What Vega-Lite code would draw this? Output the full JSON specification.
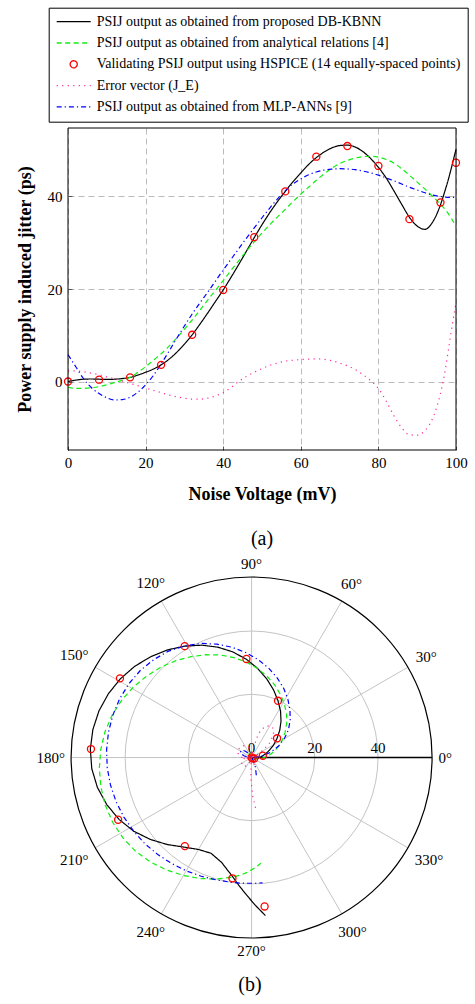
{
 "$schema": "https://vega.github.io/schema/vega-lite/v6.json",
 "background": "#ffffff",
 "padding": {"left": 16, "top": 7, "right": 0, "bottom": 5},
 "config": {
  "font": "Liberation Serif",
  "view": {"stroke": null},
  "axis": {"labelFont": "Liberation Serif", "titleFont": "Liberation Serif", "labelColor": "#000000", "titleColor": "#000000", "labelFontSize": 15, "titleFontSize": 18, "titleFontWeight": "bold"},
  "title": {"font": "Liberation Serif", "fontSize": 20, "fontWeight": "normal", "color": "#000000"},
  "legend": {"title": null, "orient": "none", "legendX": -19.3, "legendY": -120.3, "direction": "vertical", "padding": 7, "strokeColor": "#000000", "fillColor": "#ffffff", "symbolStrokeWidth": 1.3, "symbolOffset": 0, "labelOffset": 5, "rowPadding": 7.3, "clipHeight": 14, "labelFont": "Liberation Serif", "labelFontSize": 14, "labelColor": "#000000", "labelLimit": 1000, "labelBaseline": "middle"}
 },
 "datasets": {
  "curves": [
   {"v":0,"kbnn":0,"analytic":-1.2,"mlp":5.8,"error":2.3},
   {"v":2,"kbnn":0.3,"analytic":-1.5,"mlp":3.2,"error":2.3},
   {"v":4,"kbnn":0.5,"analytic":-1.5,"mlp":0.6,"error":2.1},
   {"v":6,"kbnn":0.55,"analytic":-1.35,"mlp":-1.3,"error":1.8},
   {"v":8,"kbnn":0.5,"analytic":-1.1,"mlp":-2.6,"error":1.5},
   {"v":10,"kbnn":0.45,"analytic":-0.7,"mlp":-3.5,"error":1.0},
   {"v":12,"kbnn":0.5,"analytic":-0.25,"mlp":-4.0,"error":0.6},
   {"v":14,"kbnn":0.65,"analytic":0.3,"mlp":-3.9,"error":0.1},
   {"v":16,"kbnn":0.9,"analytic":0.9,"mlp":-3.4,"error":-0.4},
   {"v":18,"kbnn":1.4,"analytic":2.0,"mlp":-2.3,"error":-0.9},
   {"v":20,"kbnn":2.0,"analytic":3.2,"mlp":-0.7,"error":-1.4},
   {"v":22,"kbnn":2.7,"analytic":4.6,"mlp":1.3,"error":-1.9},
   {"v":24,"kbnn":3.6,"analytic":6.0,"mlp":3.8,"error":-2.4},
   {"v":26,"kbnn":4.8,"analytic":7.6,"mlp":6.5,"error":-2.9},
   {"v":28,"kbnn":6.3,"analytic":9.4,"mlp":9.3,"error":-3.3},
   {"v":30,"kbnn":8.1,"analytic":11.3,"mlp":12.0,"error":-3.6},
   {"v":32,"kbnn":10.1,"analytic":13.3,"mlp":14.6,"error":-3.8},
   {"v":34,"kbnn":12.4,"analytic":15.4,"mlp":17.0,"error":-3.8},
   {"v":36,"kbnn":14.8,"analytic":17.6,"mlp":19.3,"error":-3.6},
   {"v":38,"kbnn":17.3,"analytic":19.7,"mlp":21.7,"error":-3.1},
   {"v":40,"kbnn":19.8,"analytic":21.8,"mlp":24.1,"error":-2.4},
   {"v":42,"kbnn":22.5,"analytic":24.0,"mlp":26.4,"error":-1.3},
   {"v":44,"kbnn":25.3,"analytic":26.1,"mlp":28.7,"error":0.0},
   {"v":46,"kbnn":28.2,"analytic":28.2,"mlp":31.0,"error":1.1},
   {"v":48,"kbnn":31.1,"analytic":30.2,"mlp":33.2,"error":2.0},
   {"v":50,"kbnn":33.9,"analytic":32.1,"mlp":35.4,"error":2.8},
   {"v":52,"kbnn":36.5,"analytic":33.9,"mlp":37.5,"error":3.5},
   {"v":54,"kbnn":38.9,"analytic":35.6,"mlp":39.5,"error":4.0},
   {"v":56,"kbnn":41.1,"analytic":37.2,"mlp":41.2,"error":4.4},
   {"v":58,"kbnn":43.2,"analytic":38.9,"mlp":42.7,"error":4.6},
   {"v":60,"kbnn":45.1,"analytic":40.5,"mlp":43.8,"error":4.75},
   {"v":62,"kbnn":46.9,"analytic":42.0,"mlp":44.7,"error":4.85},
   {"v":64,"kbnn":48.4,"analytic":43.5,"mlp":45.3,"error":4.9},
   {"v":66,"kbnn":49.6,"analytic":44.9,"mlp":45.7,"error":4.8},
   {"v":68,"kbnn":50.5,"analytic":46.1,"mlp":45.9,"error":4.5},
   {"v":70,"kbnn":51.0,"analytic":47.1,"mlp":46.0,"error":4.0},
   {"v":72,"kbnn":51.1,"analytic":47.8,"mlp":45.95,"error":3.4},
   {"v":74,"kbnn":50.7,"analytic":48.3,"mlp":45.8,"error":2.6},
   {"v":76,"kbnn":49.7,"analytic":48.6,"mlp":45.5,"error":1.5},
   {"v":78,"kbnn":48.2,"analytic":48.7,"mlp":45.1,"error":0.2},
   {"v":80,"kbnn":46.3,"analytic":48.5,"mlp":44.6,"error":-1.5},
   {"v":82,"kbnn":44.0,"analytic":48.0,"mlp":44.0,"error":-4.2},
   {"v":84,"kbnn":41.2,"analytic":47.2,"mlp":43.4,"error":-7.4},
   {"v":86,"kbnn":38.3,"analytic":46.0,"mlp":42.7,"error":-10.0},
   {"v":88,"kbnn":35.5,"analytic":44.6,"mlp":42.0,"error":-11.5},
   {"v":90,"kbnn":33.6,"analytic":43.1,"mlp":41.4,"error":-11.6},
   {"v":92,"kbnn":32.9,"analytic":41.6,"mlp":40.8,"error":-10.6},
   {"v":94,"kbnn":34.5,"analytic":40.0,"mlp":40.3,"error":-7.9},
   {"v":96,"kbnn":38.2,"analytic":38.3,"mlp":40.0,"error":-2.6},
   {"v":97,"kbnn":40.8,"analytic":37.4,"mlp":39.9,"error":1.4},
   {"v":98,"kbnn":43.6,"analytic":36.3,"mlp":39.8,"error":6.6},
   {"v":99,"kbnn":46.8,"analytic":35.0,"mlp":39.8,"error":12.0},
   {"v":100,"kbnn":50.2,"analytic":33.6,"mlp":39.8,"error":17.0}
  ],
  "hspice": [
   {"s":"hspice","v":0,"j":0},
   {"s":"hspice","v":8,"j":0.4},
   {"s":"hspice","v":16,"j":0.9},
   {"s":"hspice","v":24,"j":3.6},
   {"s":"hspice","v":32,"j":10.1},
   {"s":"hspice","v":40,"j":19.8},
   {"s":"hspice","v":48,"j":31.2},
   {"s":"hspice","v":56,"j":41.1},
   {"s":"hspice","v":64,"j":48.6},
   {"s":"hspice","v":72,"j":50.9},
   {"s":"hspice","v":80,"j":46.6},
   {"s":"hspice","v":88,"j":35.1},
   {"s":"hspice","v":96,"j":38.7},
   {"s":"hspice","v":100,"j":47.3}
  ]
 },
 "spacing": 8,
 "resolve": {"scale": {"x": "independent", "y": "independent", "color": "independent", "strokeDash": "independent", "shape": "independent", "size": "independent"}},
 "vconcat": [
  {
   "width": 388,
   "height": 322,
   "title": {"text": "(a)", "orient": "bottom", "offset": 26},
   "layer": [
    {
     "data": {"name": "curves"},
     "transform": [{"fold": ["kbnn", "analytic", "error", "mlp"], "as": ["s", "j"]}],
     "mark": {"type": "line", "strokeWidth": 1.2, "interpolate": "monotone"},
     "encoding": {
      "x": {"field": "v", "type": "quantitative", "scale": {"domain": [0, 100], "nice": false, "zero": false},
            "axis": {"values": [0, 20, 40, 60, 80, 100], "title": "Noise Voltage (mV)", "grid": true, "gridDash": [6, 4], "gridColor": "#bbbbbb", "gridWidth": 1, "domain": false, "ticks": true, "tickSize": -4, "tickColor": "#555555", "tickWidth": 1, "labelPadding": 9, "labelFlush": false, "labelOverlap": false, "titlePadding": 15}},
      "y": {"field": "j", "type": "quantitative", "scale": {"domain": [-14.8, 54.8], "nice": false, "zero": false},
            "axis": {"values": [0, 20, 40], "title": "Power supply induced jitter (ps)", "grid": true, "gridDash": [6, 4], "gridColor": "#bbbbbb", "gridWidth": 1, "domain": false, "ticks": true, "tickSize": -4, "tickColor": "#555555", "tickWidth": 1, "labelPadding": 10, "titlePadding": 13}},
      "color": {"field": "s", "type": "nominal", "scale": {"domain": ["kbnn", "analytic", "hspice", "error", "mlp"], "range": ["#000000", "#11ee11", "#ff0000", "#ff2aa0", "#0000ff"]},
                "legend": {"labelExpr": "{'kbnn': 'PSIJ output as obtained from proposed DB-KBNN', 'analytic': 'PSIJ output as obtained from analytical relations [4]', 'hspice': 'Validating PSIJ output using HSPICE (14 equally-spaced points)', 'error': 'Error vector (J_E)', 'mlp': 'PSIJ output as obtained from MLP-ANNs [9]'}[datum.value]"}},
      "strokeDash": {"field": "s", "type": "nominal", "scale": {"domain": ["kbnn", "analytic", "hspice", "error", "mlp"], "range": [[1, 0], [5, 3.5], [1, 0], [1.2, 4.3], [5, 3, 1.2, 3]]},
                "legend": {"labelExpr": "{'kbnn': 'PSIJ output as obtained from proposed DB-KBNN', 'analytic': 'PSIJ output as obtained from analytical relations [4]', 'hspice': 'Validating PSIJ output using HSPICE (14 equally-spaced points)', 'error': 'Error vector (J_E)', 'mlp': 'PSIJ output as obtained from MLP-ANNs [9]'}[datum.value]"}}
     }
    },
    {
     "data": {"name": "hspice"},
     "mark": {"type": "point", "filled": false, "strokeWidth": 1.3, "opacity": 1},
     "encoding": {
      "x": {"field": "v", "type": "quantitative"},
      "y": {"field": "j", "type": "quantitative"},
      "color": {"field": "s", "type": "nominal", "scale": {"domain": ["kbnn", "analytic", "hspice", "error", "mlp"], "range": ["#000000", "#11ee11", "#ff0000", "#ff2aa0", "#0000ff"]},
                "legend": {"labelExpr": "{'kbnn': 'PSIJ output as obtained from proposed DB-KBNN', 'analytic': 'PSIJ output as obtained from analytical relations [4]', 'hspice': 'Validating PSIJ output using HSPICE (14 equally-spaced points)', 'error': 'Error vector (J_E)', 'mlp': 'PSIJ output as obtained from MLP-ANNs [9]'}[datum.value]"}},
      "shape": {"field": "s", "type": "nominal", "scale": {"domain": ["kbnn", "analytic", "hspice", "error", "mlp"], "range": ["stroke", "stroke", "circle", "stroke", "stroke"]},
                "legend": {"labelExpr": "{'kbnn': 'PSIJ output as obtained from proposed DB-KBNN', 'analytic': 'PSIJ output as obtained from analytical relations [4]', 'hspice': 'Validating PSIJ output using HSPICE (14 equally-spaced points)', 'error': 'Error vector (J_E)', 'mlp': 'PSIJ output as obtained from MLP-ANNs [9]'}[datum.value]"}},
      "size": {"field": "s", "type": "nominal", "scale": {"type": "ordinal", "domain": ["kbnn", "analytic", "hspice", "error", "mlp"], "range": [1156, 1156, 50, 1156, 1156]},
                "legend": {"labelExpr": "{'kbnn': 'PSIJ output as obtained from proposed DB-KBNN', 'analytic': 'PSIJ output as obtained from analytical relations [4]', 'hspice': 'Validating PSIJ output using HSPICE (14 equally-spaced points)', 'error': 'Error vector (J_E)', 'mlp': 'PSIJ output as obtained from MLP-ANNs [9]'}[datum.value]"}}
     }
    },
    {
     "data": {"values": [{"x0": 0, "x1": 100, "y0": -14.8, "y1": 54.8}]},
     "mark": {"type": "rect", "fill": "transparent", "stroke": "#000000", "strokeWidth": 1},
     "encoding": {
      "x": {"field": "x0", "type": "quantitative"},
      "x2": {"field": "x1"},
      "y": {"field": "y0", "type": "quantitative"},
      "y2": {"field": "y1"}
     }
    }
   ]
  },
  {
   "width": 364,
   "height": 361,
   "title": {"text": "(b)", "orient": "bottom", "offset": 16},
   "layer": [
    {
     "data": {"values": [{"r": 20}, {"r": 40}]},
     "mark": {"type": "point", "shape": "circle", "filled": false, "stroke": "#c4c4c4", "strokeWidth": 1, "opacity": 1},
     "encoding": {
      "x": {"datum": 0, "type": "quantitative", "scale": {"domain": [-58.1, 57.1], "nice": false, "zero": false}, "axis": null},
      "y": {"datum": 0, "type": "quantitative", "scale": {"domain": [-57.1, 57.1], "nice": false, "zero": false}, "axis": null},
      "size": {"field": "r", "type": "quantitative", "scale": {"type": "pow", "exponent": 2, "domain": [0, 57.1], "range": [0, 130321], "zero": true}, "legend": null}
     }
    },
    {
     "data": {"values": [{"a": 0}, {"a": 30}, {"a": 60}, {"a": 90}, {"a": 120}, {"a": 150}, {"a": 180}, {"a": 210}, {"a": 240}, {"a": 270}, {"a": 300}, {"a": 330}]},
     "transform": [
      {"calculate": "57.1*cos(datum.a*PI/180)", "as": "ex"},
      {"calculate": "57.1*sin(datum.a*PI/180)", "as": "ey"}
     ],
     "mark": {"type": "rule", "stroke": "#c4c4c4", "strokeWidth": 1},
     "encoding": {
      "x": {"field": "ex", "type": "quantitative", "scale": {"domain": [-58.1, 57.1], "nice": false, "zero": false}, "axis": null},
      "y": {"field": "ey", "type": "quantitative", "scale": {"domain": [-57.1, 57.1], "nice": false, "zero": false}, "axis": null},
      "x2": {"datum": 0},
      "y2": {"datum": 0}
     }
    },
    {
     "data": {"values": [{"r": 57.1}]},
     "mark": {"type": "point", "shape": "circle", "filled": false, "stroke": "#000000", "strokeWidth": 1.2, "opacity": 1},
     "encoding": {
      "x": {"datum": 0, "type": "quantitative", "scale": {"domain": [-58.1, 57.1], "nice": false, "zero": false}, "axis": null},
      "y": {"datum": 0, "type": "quantitative", "scale": {"domain": [-57.1, 57.1], "nice": false, "zero": false}, "axis": null},
      "size": {"field": "r", "type": "quantitative", "scale": {"type": "pow", "exponent": 2, "domain": [0, 57.1], "range": [0, 130321], "zero": true}, "legend": null}
     }
    },
    {
     "data": {"values": [{"r0": 0, "r1": 57.1}]},
     "mark": {"type": "rule", "stroke": "#000000", "strokeWidth": 1.5},
     "encoding": {
      "x": {"field": "r0", "type": "quantitative", "scale": {"domain": [-58.1, 57.1], "nice": false, "zero": false}, "axis": null},
      "x2": {"field": "r1"},
      "y": {"datum": 0, "type": "quantitative", "scale": {"domain": [-57.1, 57.1], "nice": false, "zero": false}, "axis": null}
     }
    },
    {
     "data": {"values": [{"a": 0, "t": "0°"}, {"a": 30, "t": "30°"}, {"a": 60, "t": "60°"}, {"a": 90, "t": "90°"}, {"a": 120, "t": "120°"}, {"a": 150, "t": "150°"}, {"a": 180, "t": "180°"}, {"a": 210, "t": "210°"}, {"a": 240, "t": "240°"}, {"a": 270, "t": "270°"}, {"a": 300, "t": "300°"}, {"a": 330, "t": "330°"}]},
     "transform": [
      {"calculate": "datum.a*PI/180", "as": "th"},
      {"calculate": "(186.5 + length(datum.t)*3.6*abs(cos(datum.th)) + 6.5*abs(sin(datum.th)) + 3*abs(sin(2*datum.th)))/3.161", "as": "rl"},
      {"calculate": "datum.rl*cos(datum.th)", "as": "lx"},
      {"calculate": "datum.rl*sin(datum.th)", "as": "ly"}
     ],
     "mark": {"type": "text", "font": "Liberation Serif", "fontSize": 15, "align": "center", "baseline": "middle", "color": "#000000"},
     "encoding": {
      "x": {"field": "lx", "type": "quantitative", "scale": {"domain": [-58.1, 57.1], "nice": false, "zero": false}, "axis": null},
      "y": {"field": "ly", "type": "quantitative", "scale": {"domain": [-57.1, 57.1], "nice": false, "zero": false}, "axis": null},
      "text": {"field": "t"}
     }
    },
    {
     "data": {"values": [{"r": 0, "t": "0"}, {"r": 20, "t": "20"}, {"r": 40, "t": "40"}]},
     "mark": {"type": "text", "font": "Liberation Serif", "fontSize": 15, "align": "center", "baseline": "alphabetic", "dy": -5, "color": "#000000"},
     "encoding": {
      "x": {"field": "r", "type": "quantitative", "scale": {"domain": [-58.1, 57.1], "nice": false, "zero": false}, "axis": null},
      "y": {"datum": 0, "type": "quantitative", "scale": {"domain": [-57.1, 57.1], "nice": false, "zero": false}, "axis": null},
      "text": {"field": "t"}
     }
    },
    {
     "data": {"name": "curves"},
     "transform": [
      {"fold": ["kbnn", "analytic", "error", "mlp"], "as": ["s", "j"]},
      {"calculate": "(3.5*datum.v - 75)*PI/180", "as": "th"},
      {"calculate": "datum.j*cos(datum.th)", "as": "px"},
      {"calculate": "datum.j*sin(datum.th)", "as": "py"}
     ],
     "mark": {"type": "line", "strokeWidth": 1.2},
     "encoding": {
      "x": {"field": "px", "type": "quantitative", "scale": {"domain": [-58.1, 57.1], "nice": false, "zero": false}, "axis": null},
      "y": {"field": "py", "type": "quantitative", "scale": {"domain": [-57.1, 57.1], "nice": false, "zero": false}, "axis": null},
      "order": {"field": "v", "type": "quantitative"},
      "color": {"field": "s", "type": "nominal", "scale": {"domain": ["kbnn", "analytic", "hspice", "error", "mlp"], "range": ["#000000", "#11ee11", "#ff0000", "#ff2aa0", "#0000ff"]}, "legend": null},
      "strokeDash": {"field": "s", "type": "nominal", "scale": {"domain": ["kbnn", "analytic", "hspice", "error", "mlp"], "range": [[1, 0], [5, 3.5], [1, 0], [1.2, 4.3], [5, 3, 1.2, 3]]}, "legend": null}
     }
    },
    {
     "data": {"name": "hspice"},
     "transform": [
      {"calculate": "(3.5*datum.v - 75)*PI/180", "as": "th"},
      {"calculate": "datum.j*cos(datum.th)", "as": "px"},
      {"calculate": "datum.j*sin(datum.th)", "as": "py"}
     ],
     "mark": {"type": "point", "filled": false, "size": 50, "strokeWidth": 1.3, "opacity": 1, "color": "#ff0000", "shape": "circle"},
     "encoding": {
      "x": {"field": "px", "type": "quantitative", "scale": {"domain": [-58.1, 57.1], "nice": false, "zero": false}, "axis": null},
      "y": {"field": "py", "type": "quantitative", "scale": {"domain": [-57.1, 57.1], "nice": false, "zero": false}, "axis": null}
     }
    }
   ]
  }
 ]
}
